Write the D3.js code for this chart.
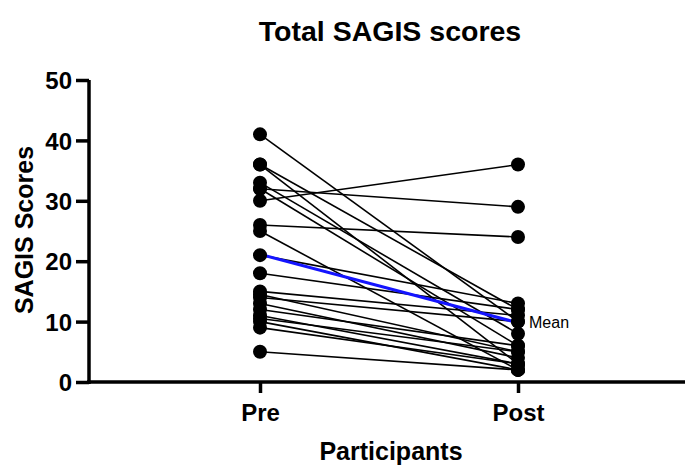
<!DOCTYPE html>
<html><head><meta charset="utf-8">
<script src="https://cdn.jsdelivr.net/npm/d3@7"></script>
<style>body{margin:0;background:#fff}svg{display:block}text{font-family:Arial,"Liberation Sans",sans-serif}</style>
</head><body>
<svg id="c" width="685" height="465"></svg>
<script>
const categories = ["Pre", "Post"];
const preScores  = [41, 36, 36, 33, 32, 32, 30, 26, 25, 21, 18, 15, 14.5, 14, 13, 12, 11, 10.5, 10, 9, 5];
const postScores = [10, 12, 3, 8, 29, 6, 36, 24, 2, 13, 12, 11, 5, 10, 4, 6, 3, 5, 2, 3, 2];
const yTicks = [0, 10, 20, 30, 40, 50];

const svg = d3.select("#c");
const y = d3.scaleLinear().domain([0, 50]).range([382, 80]);
const x = d3.scalePoint().domain(categories).range([260, 518]);

// axes
const yAx = svg.append("g").attr("transform", "translate(89,0)")
  .call(d3.axisLeft(y).tickValues(yTicks).tickSize(13).tickPadding(4));
yAx.select(".domain").attr("stroke-width", 3.5).attr("d", "M0,80V384");
yAx.selectAll(".tick line").attr("stroke-width", 3.5);
yAx.selectAll(".tick text").attr("font-size", 24).attr("font-weight", "bold").attr("fill", "#000").attr("dy", "0.36em");

const xAx = svg.append("g").attr("transform", "translate(0,382)")
  .call(d3.axisBottom(x).tickSize(11).tickPadding(11));
xAx.select(".domain").attr("stroke-width", 3.5).attr("d", "M87,0H685");
xAx.selectAll(".tick line").attr("stroke-width", 3.5);
xAx.selectAll(".tick text").attr("font-size", 24).attr("font-weight", "bold").attr("fill", "#000");

// participant lines
const pairs = preScores.map((p, i) => [p, postScores[i]]);
svg.append("g").selectAll("line").data(pairs).join("line")
  .attr("x1", x("Pre")).attr("x2", x("Post"))
  .attr("y1", d => y(d[0])).attr("y2", d => y(d[1]))
  .attr("stroke", "#000").attr("stroke-width", 1.6);

// mean line
const mPre = d3.mean(preScores), mPost = d3.mean(postScores);
svg.append("line").attr("x1", x("Pre")).attr("x2", x("Post"))
  .attr("y1", y(mPre)).attr("y2", y(mPost))
  .attr("stroke", "#1414ff").attr("stroke-width", 3);

// dots
const pts = [];
preScores.forEach(v => pts.push([x("Pre"), v]));
postScores.forEach(v => pts.push([x("Post"), v]));
svg.append("g").selectAll("circle").data(pts).join("circle")
  .attr("cx", d => d[0]).attr("cy", d => y(d[1])).attr("r", 7).attr("fill", "#000");

svg.append("text").attr("x", x("Post") + 11).attr("y", y(mPost)).attr("dy", "0.35em")
  .attr("font-size", 16).text("Mean");

// titles
svg.append("text").attr("x", 390).attr("y", 41).attr("text-anchor", "middle")
  .attr("font-size", 28.5).attr("font-weight", "bold").text("Total SAGIS scores");
svg.append("text").attr("transform", "translate(33,230) rotate(-90)").attr("text-anchor", "middle")
  .attr("font-size", 25).attr("font-weight", "bold").text("SAGIS Scores");
svg.append("text").attr("x", 391).attr("y", 460).attr("text-anchor", "middle")
  .attr("font-size", 25).attr("font-weight", "bold").text("Participants");
</script>
</body></html>
